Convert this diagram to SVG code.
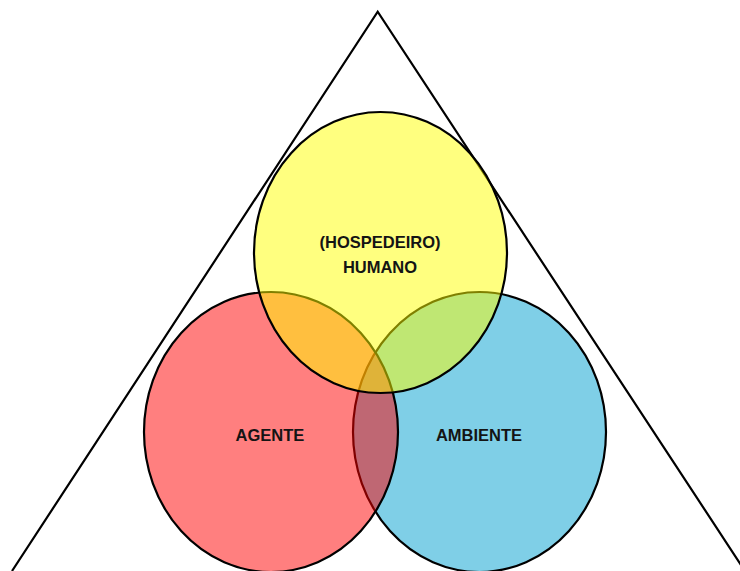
<svg xmlns="http://www.w3.org/2000/svg" width="740" height="571" viewBox="0 0 740 571">
<style>
.c{stroke:#000;stroke-width:2.2}
.t{font-family:"Liberation Sans",Arial,sans-serif;font-weight:bold;font-size:16.5px;fill:#141414;text-anchor:middle}
</style>
<rect width="740" height="571" fill="#fff"/>
<g id="triangle"><polyline points="12,571 377.7,11.7 745,571" fill="none" stroke="#000" stroke-width="2.2"/></g>
<g id="ambiente"><ellipse class="c" cx="479.5" cy="432" rx="126.5" ry="140" fill="#00A0D0" fill-opacity="0.5"/></g>
<g id="agente"><ellipse class="c" cx="271" cy="432" rx="127" ry="140" fill="#FF0000" fill-opacity="0.5"/></g>
<g id="hospedeiro"><ellipse class="c" cx="380.5" cy="252.5" rx="126.5" ry="140.5" fill="#FFFF00" fill-opacity="0.5"/></g>
<g id="labels">
<text class="t" x="380" y="248">(HOSPEDEIRO)</text>
<text class="t" x="380" y="273">HUMANO</text>
<text class="t" x="270" y="441">AGENTE</text>
<text class="t" x="479" y="441">AMBIENTE</text>
</g>
</svg>
